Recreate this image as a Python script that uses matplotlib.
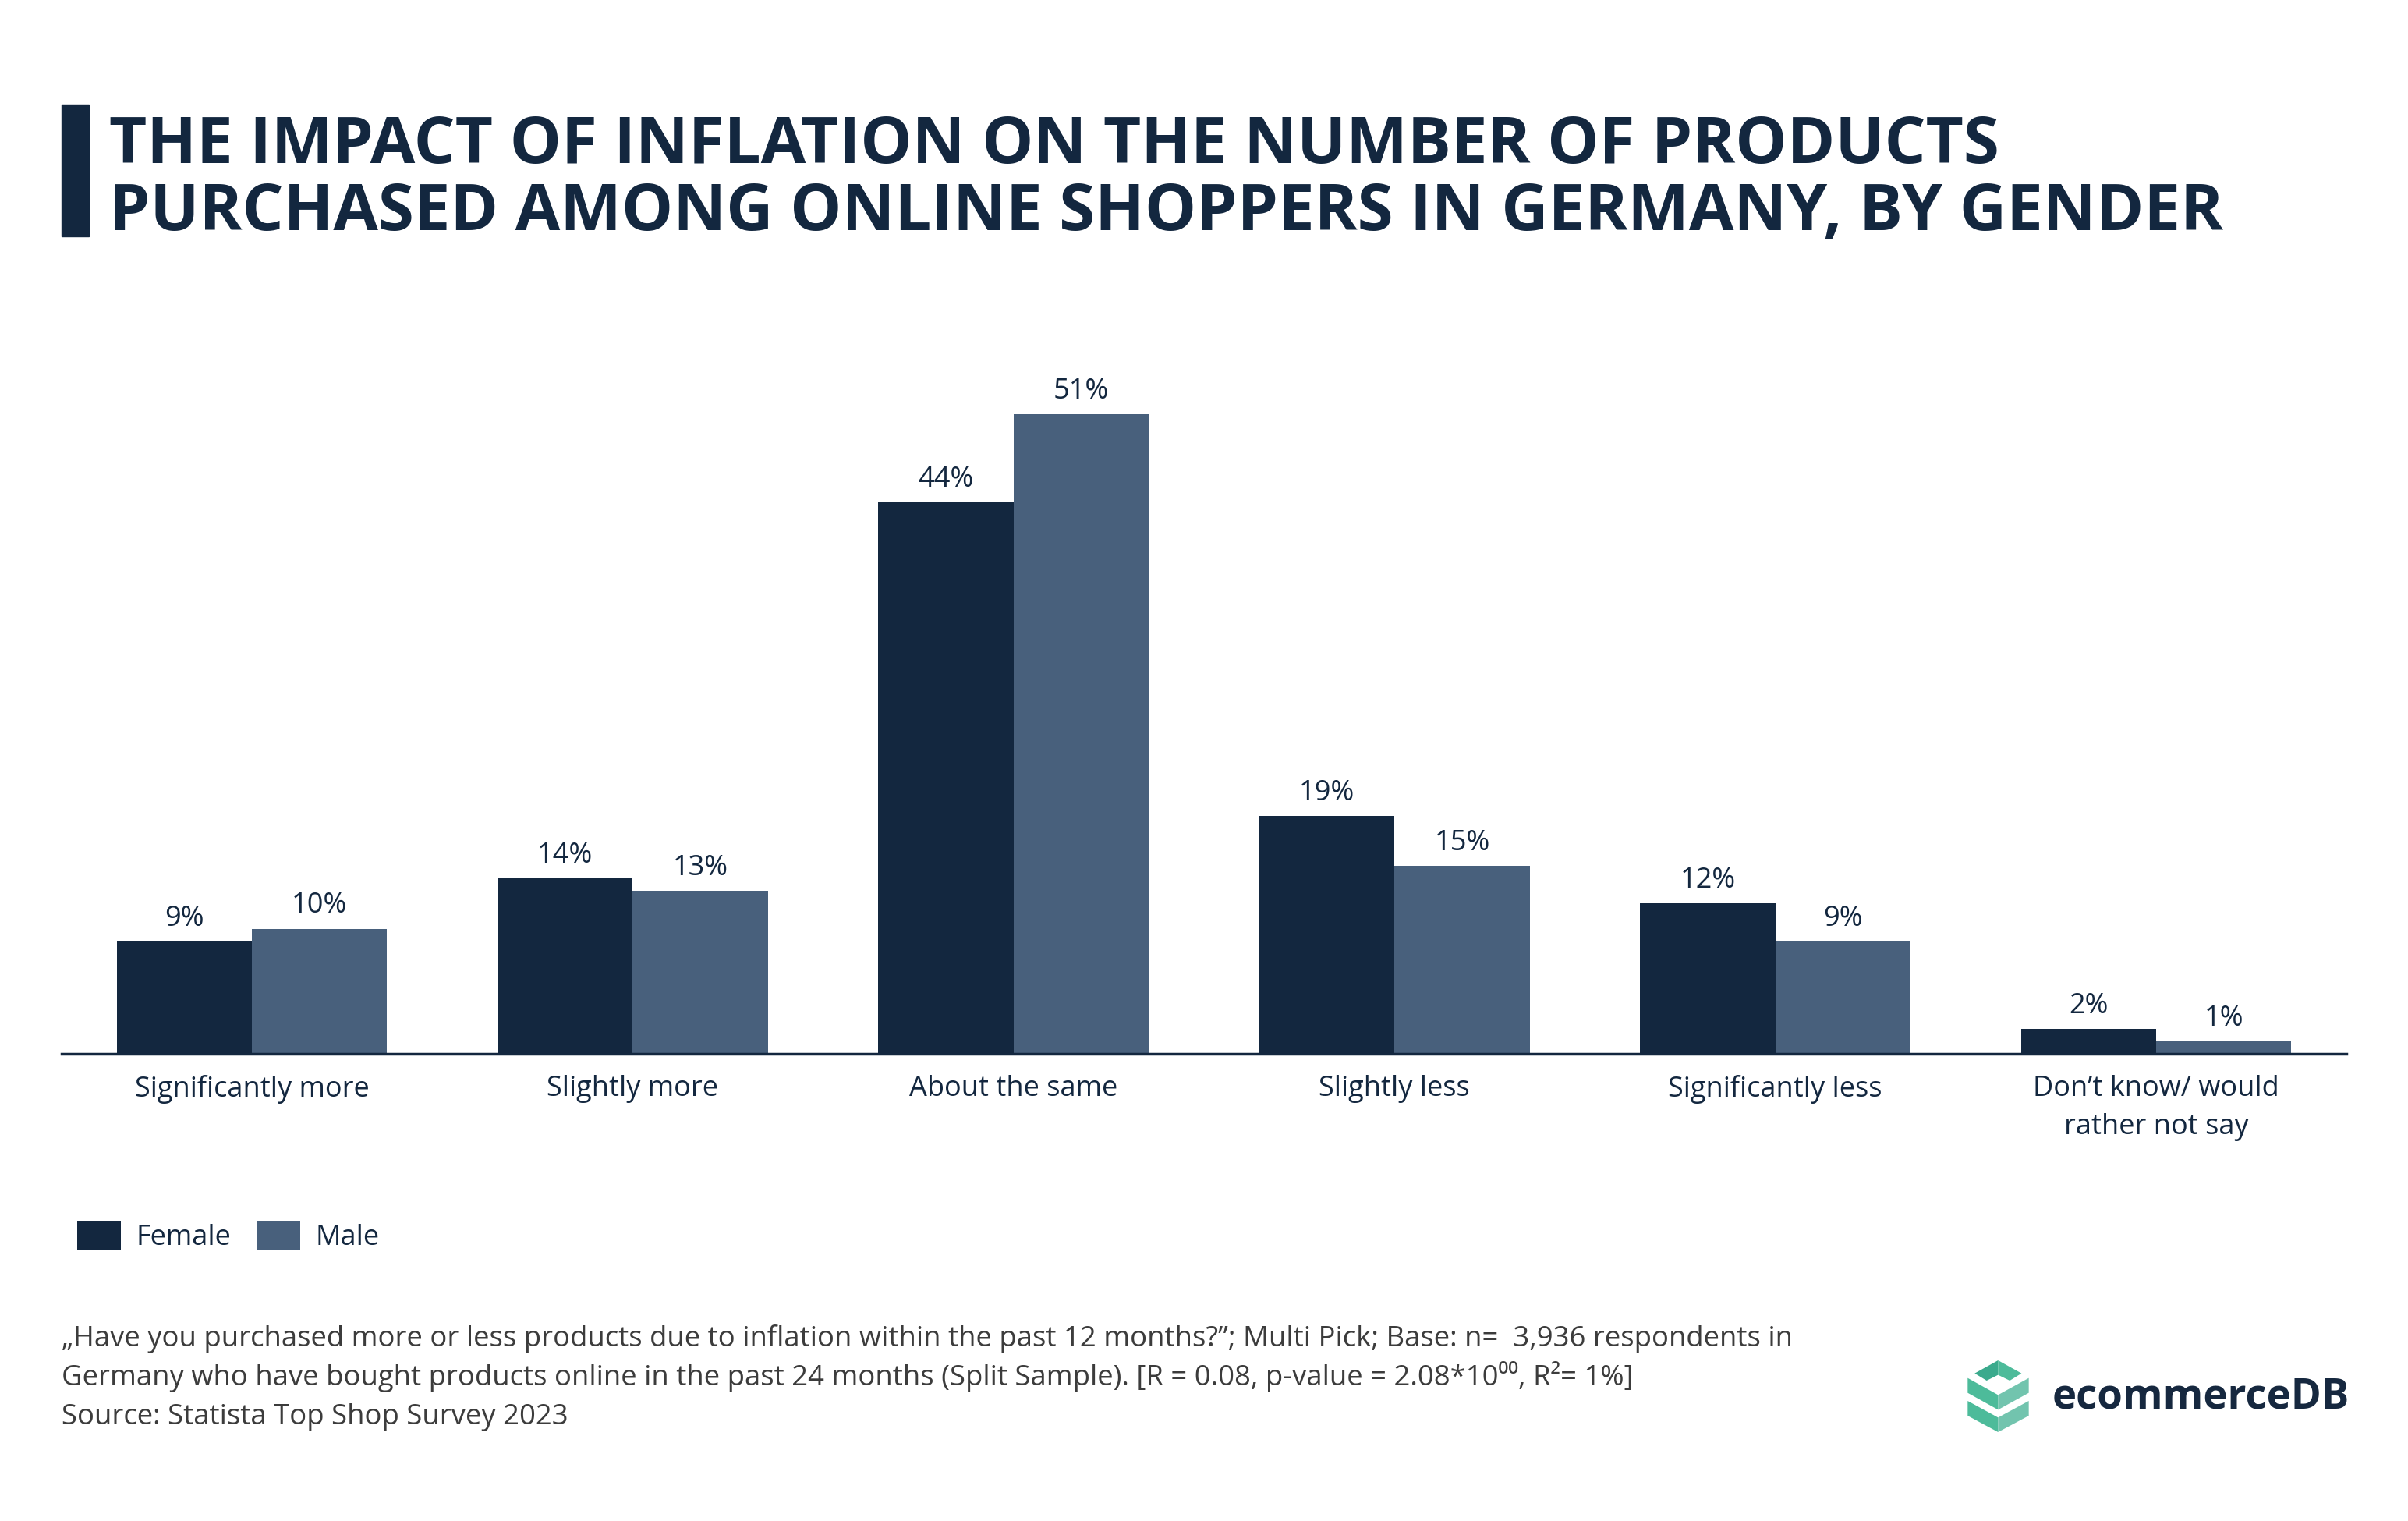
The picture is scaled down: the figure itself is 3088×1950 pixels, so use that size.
import numpy as np
import matplotlib.pyplot as plt
from matplotlib.patches import Polygon, Rectangle

# survey answers (share of respondents, %)
categories = ["Significantly more", "Slightly more", "About the same",
              "Slightly less", "Significantly less", "Don\u2019t know/ would\nrather not say"]
female = [9, 14, 44, 19, 12, 2]
male = [10, 13, 51, 15, 9, 1]

navy = "#13273f"
slate = "#48607c"
grey = "#3c3c3c"

plt.rcParams['font.family'] = ['Open Sans', 'DejaVu Sans']

fig = plt.figure(figsize=(30.88, 19.5), dpi=100)

# overlay in pixel coords for title bar, notes and logo
bg = fig.add_axes([0, 0, 1, 1])
bg.set_xlim(0, 3088)
bg.set_ylim(1950, 0)
bg.axis('off')

bg.add_patch(Rectangle((79, 134), 35, 169, color=navy))
bg.text(140, 209, "THE IMPACT OF INFLATION ON THE NUMBER OF PRODUCTS",
        fontsize=60, fontweight='bold', color=navy, va='baseline')
bg.text(140, 295, "PURCHASED AMONG ONLINE SHOPPERS IN GERMANY, BY GENDER",
        fontsize=60, fontweight='bold', color=navy, va='baseline')

ax = fig.add_axes([0.0255, 0.307, 0.949, 0.4535])
x = np.arange(len(categories))
w = 0.355
b1 = ax.bar(x - w / 2, female, w, color=navy, label="Female")
b2 = ax.bar(x + w / 2, male, w, color=slate, label="Male")
for bars in (b1, b2):
    ax.bar_label(bars, labels=[f"{v:g}%" for v in bars.datavalues],
                 padding=8, fontsize=26, color=navy)

ax.set_xlim(-0.5, len(categories) - 0.5)
ax.set_ylim(0, 55)
ax.set_xticks(x)
ax.set_xticklabels(categories, fontsize=26, color=navy, linespacing=1.5)
ax.tick_params(axis='x', length=0, pad=19)
ax.set_yticks([])
for s in ('top', 'right', 'left'):
    ax.spines[s].set_visible(False)
ax.spines['bottom'].set_color(navy)
ax.spines['bottom'].set_linewidth(2.5)
ax.patch.set_alpha(0)

ax.legend(loc='upper left', bbox_to_anchor=(0.0215, 0.214), bbox_transform=fig.transFigure,
          frameon=False, ncol=2, fontsize=26, handlelength=1.55, handleheight=1.17,
          handletextpad=0.55, columnspacing=0.9, labelcolor=navy)

notes = ["\u201eHave you purchased more or less products due to inflation within the past 12 months?\u201d; Multi Pick; Base: n=  3,936 respondents in",
         "Germany who have bought products online in the past 24 months (Split Sample). [R = 0.08, p-value = 2.08*10\u2070\u2070, R\u00b2= 1%]",
         "Source: Statista Top Shop Survey 2023"]
for i, line in enumerate(notes):
    bg.text(79, 1726 + i * 50, line, fontsize=26.3, color=grey, va='baseline')

# ecommerceDB logo
ox, oy = 2500, 1720
def pts(p):
    return [(ox + a / 3, oy + b / 3) for a, b in p]

shapes = [
    ([(97, 122), (187, 72), (187, 128), (143, 150)], "#3baa8d"),
    ([(187, 72), (277, 122), (232, 150), (187, 128)], "#4dbb9a"),
    ([(70, 140), (187, 205), (187, 262), (70, 197)], "#4dbb9a"),
    ([(187, 205), (305, 140), (305, 197), (187, 262)], "#72c4ae"),
    ([(70, 228), (187, 292), (187, 348), (70, 285)], "#4dbb9a"),
    ([(187, 292), (305, 228), (305, 285), (187, 348)], "#72c4ae"),
]
for p, c in shapes:
    bg.add_patch(Polygon(pts(p), closed=True, color=c, lw=0))
bg.text(2632, 1792, "ecommerceDB", fontsize=38, fontweight='bold', color="#16283f",
        va='center')

fig.savefig("out.png", dpi=100)
